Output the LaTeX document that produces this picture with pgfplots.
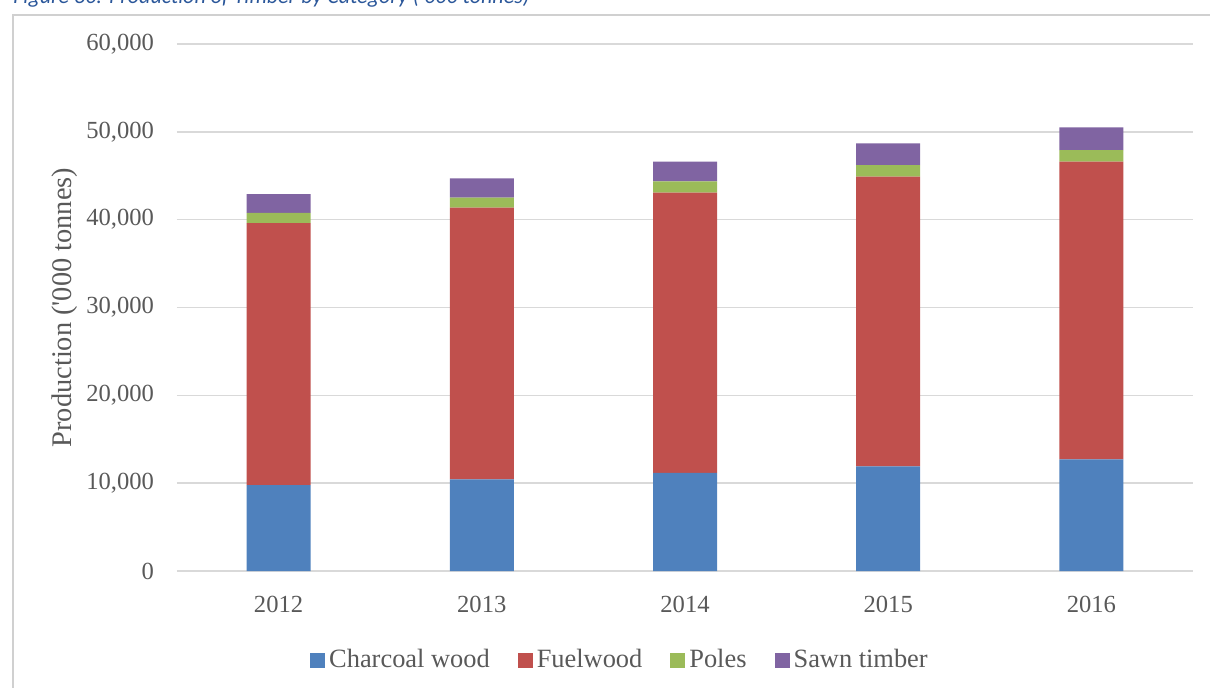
\documentclass[border=0pt]{standalone}
\usepackage{fontspec}
\setmainfont{Liberation Serif}
\newfontfamily\titlefont{Carlito}
\usepackage{pgfplots}
\pgfplotsset{compat=1.18}

\definecolor{charcoal}{HTML}{4F81BD}
\definecolor{fuel}{HTML}{C0504D}
\definecolor{poles}{HTML}{9BBB59}
\definecolor{sawn}{HTML}{8064A2}
\definecolor{gridgray}{HTML}{D9D9D9}
\definecolor{framegray}{HTML}{D0D0D0}
\definecolor{txtgray}{HTML}{595959}
\definecolor{titleblue}{HTML}{2B579A}

% production in '000 tonnes, years coded 0..4
\pgfplotstableread{
x charcoal fuel poles sawn
0 9790 29830 1140 2160
1 10440 30930 1130 2210
2 11160 31910 1300 2230
3 11920 32980 1300 2500
4 12720 33880 1330 2570
}\timber

\begin{document}
\begin{tikzpicture}
\useasboundingbox (-88.5pt,-58pt) rectangle (516.5pt,285.5pt);
% chart frame (only top and left edges fall inside the picture)
\draw[framegray, line width=1pt] (-82pt,-80pt) -- (-82pt,278pt) -- (540pt,278pt);
\node[anchor=base west, inner sep=0pt, font=\titlefont\itshape\fontsize{11}{13}\selectfont, text=titleblue]
  at (-82pt,283.5pt) {Figure 30: Production of Timber by Category (\textquotesingle 000 tonnes)};

\begin{axis}[
  at={(0,0)}, anchor=south west,
  scale only axis, width=508pt, height=263.5pt,
  ybar stacked, bar width=32pt,
  xmin=-0.5, xmax=4.5, ymin=0, ymax=60000,
  xtick={0,1,2,3,4}, xticklabels={2012,2013,2014,2015,2016},
  ytick={0,10000,...,60000},
  scaled y ticks=false,
  /pgf/number format/assume math mode=true,
  /pgf/number format/.cd, 1000 sep={,}, /pgfplots/.cd,
  axis line style={draw=none},
  major tick length=0pt,
  ymajorgrids, grid style={gridgray, line width=0.75pt},
  tick label style={font=\fontsize{12.3}{14}\selectfont, text=txtgray},
  yticklabel style={xshift=-8pt},
  xticklabel style={yshift=-9pt},
  ylabel={Production (\textquotesingle 000 tonnes)},
  ylabel style={at={(axis description cs:-0.111,0.5)}, anchor=center,
    font=\fontsize{14.2}{16}\selectfont, text=txtgray},
  legend columns=4,
  legend style={at={(axis description cs:0.437,-0.169)}, anchor=center,
    draw=none, fill=none, font=\fontsize{13.2}{15}\selectfont, text=txtgray,
    /tikz/every even column/.append style={column sep=12pt}},
  legend image code/.code={\fill[#1] (0pt,-3.75pt) rectangle (7.5pt,3.75pt);},
]
\addplot[fill=charcoal, draw=none] table[x=x, y=charcoal] {\timber};
\addlegendentry{Charcoal wood}
\addplot[fill=fuel, draw=none] table[x=x, y=fuel] {\timber};
\addlegendentry{Fuelwood}
\addplot[fill=poles, draw=none] table[x=x, y=poles] {\timber};
\addlegendentry{Poles}
\addplot[fill=sawn, draw=none] table[x=x, y=sawn] {\timber};
\addlegendentry{Sawn timber}
\end{axis}
\end{tikzpicture}
\end{document}
